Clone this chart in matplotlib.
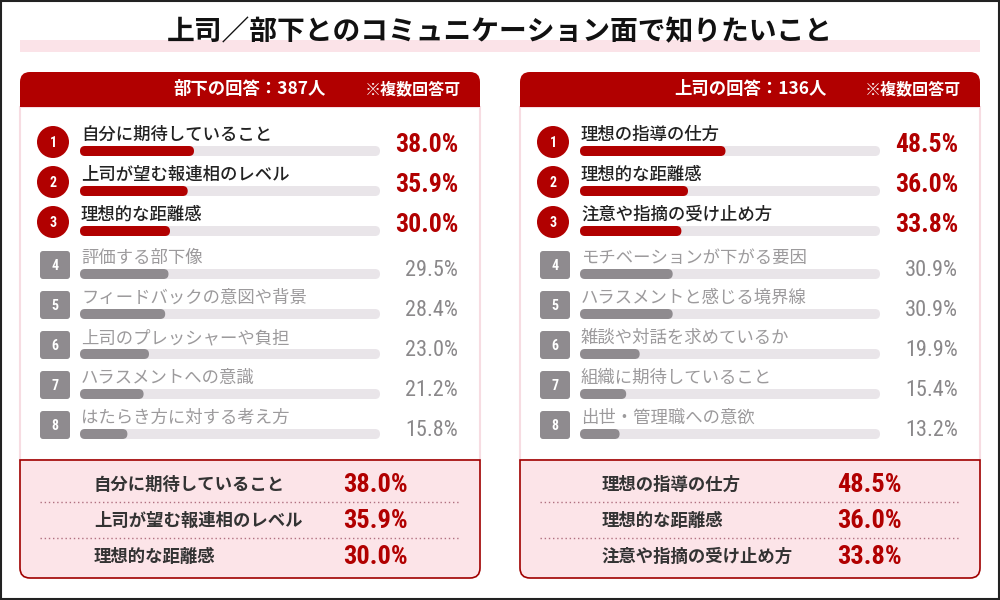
import matplotlib
matplotlib.use('Agg')
import matplotlib.pyplot as plt
from matplotlib import font_manager
from matplotlib.patches import FancyBboxPatch, Rectangle, Circle, PathPatch
from matplotlib.path import Path

plt.rcParams['font.family'] = ['Noto Sans CJK JP', 'DejaVu Sans']

title = '上司／部下とのコミュニケーション面で知りたいこと'
note = '※複数回答可'

sub_header = '部下の回答：387人'
sub_labels = ['自分に期待していること', '上司が望む報連相のレベル', '理想的な距離感',
              '評価する部下像', 'フィードバックの意図や背景', '上司のプレッシャーや負担',
              'ハラスメントへの意識', 'はたらき方に対する考え方']
sub_values = [38.0, 35.9, 30.0, 29.5, 28.4, 23.0, 21.2, 15.8]

boss_header = '上司の回答：136人'
boss_labels = ['理想の指導の仕方', '理想的な距離感', '注意や指摘の受け止め方',
               'モチベーションが下がる要因', 'ハラスメントと感じる境界線', '雑談や対話を求めているか',
               '組織に期待していること', '出世・管理職への意欲']
boss_values = [48.5, 36.0, 33.8, 30.9, 30.9, 19.9, 15.4, 13.2]

RED = '#B10000'
GRAY = '#8F8B8F'
TRACK = '#E9E5E9'

# condensed face for the numbers, if one is installed
names = {f.name for f in font_manager.fontManager.ttflist}
num_font = 'DejaVu Sans'
for n in ['Roboto Condensed', 'Liberation Sans Narrow', 'Open Sans Condensed', 'DejaVu Sans Condensed']:
    if n in names:
        num_font = n
        break
num_kw = dict(family=[num_font, 'DejaVu Sans'])
if num_font == 'DejaVu Sans':
    num_kw['fontstretch'] = 'condensed'


def rpath(x0, y0, x1, y1, r, top):
    # box with only the top (or only the bottom) corners rounded; y grows downward
    if top:
        verts = [(x0, y1), (x0, y0 + r), (x0, y0), (x0 + r, y0), (x1 - r, y0), (x1, y0),
                 (x1, y0 + r), (x1, y1), (x0, y1)]
        codes = [Path.MOVETO, Path.LINETO, Path.CURVE3, Path.CURVE3, Path.LINETO,
                 Path.CURVE3, Path.CURVE3, Path.LINETO, Path.CLOSEPOLY]
    else:
        verts = [(x0, y0), (x1, y0), (x1, y1 - r), (x1, y1), (x1 - r, y1), (x0 + r, y1),
                 (x0, y1), (x0, y1 - r), (x0, y0)]
        codes = [Path.MOVETO, Path.LINETO, Path.LINETO, Path.CURVE3, Path.CURVE3,
                 Path.LINETO, Path.CURVE3, Path.CURVE3, Path.CLOSEPOLY]
    return Path(verts, codes)


fig = plt.figure(figsize=(10, 6), dpi=100)
ax = fig.add_axes([0, 0, 1, 1])
ax.set_xlim(0, 1000)
ax.set_ylim(600, 0)
ax.axis('off')

ax.add_patch(Rectangle((1, 1), 998, 598, fill=False, ec='#222222', lw=1.5))
ax.add_patch(Rectangle((20, 40), 960, 12, fc='#FBE3E8', ec='none'))
ax.text(500, 32, title, ha='center', va='center', fontsize=20, fontweight='bold', color='#111111')


def panel(x0, header, labels, values, lab_x, pct_x):
    ax.add_patch(Rectangle((x0, 107), 460, 353, fc='white', ec='#F7DCE2', lw=1.5))
    ax.add_patch(PathPatch(rpath(x0, 72, x0 + 460, 107, 10, True), fc=RED, ec='none'))
    ax.text(x0 + 230, 89, header, ha='center', va='center', color='white',
            fontsize=12.5, fontweight='bold')
    ax.text(x0 + 441, 89, note, ha='right', va='center', color='white',
            fontsize=11.5, fontweight='bold')

    for i, (lab, v) in enumerate(zip(labels, values)):
        top = i < 3
        y = 142 + 40 * i + (3 if not top else 0)
        if top:
            ax.add_patch(Circle((x0 + 33, y), 16, fc=RED, ec='none'))
        else:
            ax.add_patch(FancyBboxPatch((x0 + 20, y - 14), 30, 28,
                                        boxstyle='round,pad=0,rounding_size=3',
                                        fc=GRAY, ec='none'))
        ax.text(x0 + 33 if top else x0 + 35, y + 1, str(i + 1), ha='center', va='center',
                color='white', fontsize=10, fontweight='bold', **num_kw)
        ax.text(x0 + 61, y - 7, lab, ha='left', va='center', fontsize=12.5,
                fontweight='medium' if top else 'normal',
                color='#222222' if top else '#9C9A9C')
        ax.add_patch(FancyBboxPatch((x0 + 60, y + 4), 300, 10,
                                    boxstyle='round,pad=0,rounding_size=5',
                                    fc=TRACK, ec='none'))
        ax.add_patch(FancyBboxPatch((x0 + 60, y + 4), v / 100 * 300, 10,
                                    boxstyle='round,pad=0,rounding_size=5',
                                    fc=RED if top else GRAY, ec='none'))
        ax.text(x0 + 438, y + (3 if top else 6), f'{v:.1f}%', ha='right', va='center',
                fontsize=18.5 if top else 16, fontweight='bold' if top else 'normal',
                color=RED if top else '#8A888A', **num_kw)

    ax.add_patch(PathPatch(rpath(x0, 460, x0 + 460, 578, 10, False),
                           fc='#FCE4E8', ec='#A00000', lw=1.2))
    for k in range(3):
        y = 485 + 36 * k
        ax.text(lab_x, y, labels[k], ha='left', va='center', fontsize=12.5,
                fontweight='bold', color='#333333')
        ax.text(pct_x, y, f'{values[k]:.1f}%', ha='left', va='center', fontsize=19,
                fontweight='bold', color=RED, **num_kw)
        if k < 2:
            ax.plot([x0 + 20, x0 + 440], [y + 17, y + 17], ls=(0, (1, 2)),
                    color='#B07080', lw=1)


panel(20, sub_header, sub_labels, sub_values, 94, 343)
panel(520, boss_header, boss_labels, boss_values, 602, 837)

fig.savefig('out.png', dpi=100)
